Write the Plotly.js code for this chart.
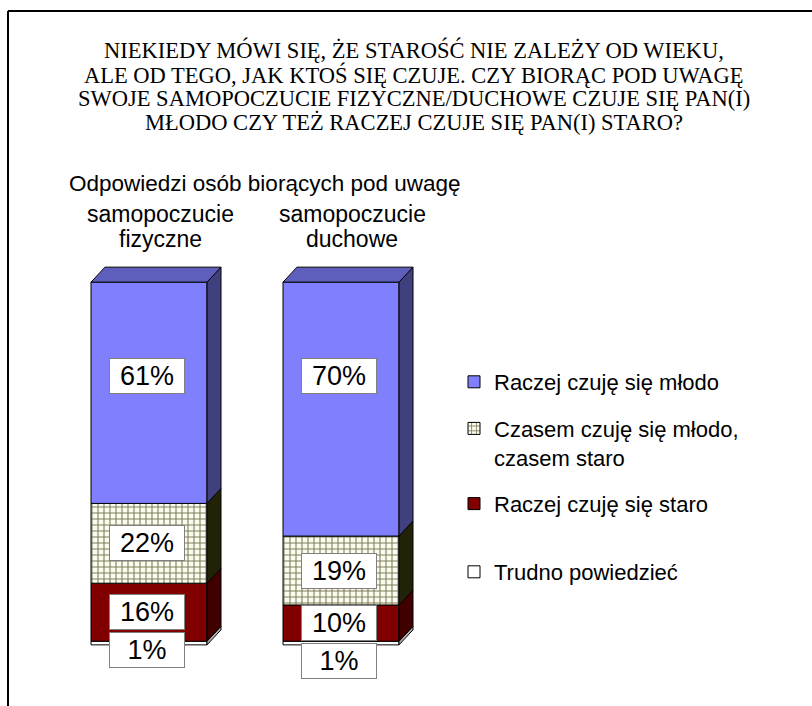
<!DOCTYPE html>
<html>
<head>
<meta charset="utf-8">
<script src="https://cdn.plot.ly/plotly-3.0.1.min.js"></script>
<style>html,body{margin:0;padding:0;background:#fff;}#chart{width:812px;height:706px;}</style>
</head>
<body>
<div id="chart"></div>
<script>
// ---- data ----
const titleLines = [
  'NIEKIEDY MÓWI SIĘ, ŻE STAROŚĆ NIE ZALEŻY OD WIEKU,',
  'ALE OD TEGO, JAK KTOŚ SIĘ CZUJE. CZY BIORĄC POD UWAGĘ',
  'SWOJE SAMOPOCZUCIE FIZYCZNE/DUCHOWE CZUJE SIĘ PAN(I)',
  'MŁODO CZY TEŻ RACZEJ CZUJE SIĘ PAN(I) STARO?'
];
const subtitle = 'Odpowiedzi osób biorących pod uwagę';
const categories = ['samopoczucie fizyczne', 'samopoczucie duchowe'];
const seriesNames = ['Raczej czuję się młodo', 'Czasem czuję się młodo,<br>czasem staro', 'Raczej czuję się staro', 'Trudno powiedzieć'];
const mlodo  = [61, 70];
const czasem = [22, 19];
const staro  = [16, 10];
const trudno = [1, 1];

// ---- geometry / style ----
const W = 812, H = 706;
const M = {l: 53, r: 375, t: 264, b: 43};
const PW = W - M.l - M.r, PH = H - M.t - M.b;
const XR = [-0.5, 1.5], YR = [-5, 105];
const pxPerX = PW / (XR[1] - XR[0]), pxPerY = PH / (YR[1] - YR[0]);
const barW = 116 / pxPerX;
const DX = 14 / pxPerX, DY = 15 / pxPerY;
const pxX = p => (p - M.l) / PW;
const pxY = p => (H - M.b - p) / PH;
const SANS = 'Liberation Sans, Arial, sans-serif';

const xs = categories.map((c, i) => i);
// stacking order bottom -> top
const stack = [
  {name: seriesNames[3], vals: trudno, front: '#ffffff', side: '#b0b0b0', top: '#e0e0e0', rank: 4, legend: 'legend2'},
  {name: seriesNames[2], vals: staro,  front: '#800000', side: '#400000', top: '#600000', rank: 3, legend: 'legend'},
  {name: seriesNames[1], vals: czasem, front: '#f8f8ec', side: '#222208', top: '#707050', rank: 2, legend: 'legend', pattern: true},
  {name: seriesNames[0], vals: mlodo,  front: '#8080ff', side: '#40407f', top: '#5e5ebc', rank: 1, legend: 'legend'}
];

const traces = [];
const bases = xs.map(() => 0);
const segs = [];
stack.forEach((s, si) => {
  const b = bases.slice();
  const marker = {color: s.front, line: {color: '#000', width: 1}};
  if (s.pattern) marker.pattern = {shape: '+', fgcolor: '#80805a', bgcolor: '#fbfbf0', size: 6, solidity: 0.33, fillmode: 'replace'};
  traces.push({
    type: 'bar', x: xs, y: s.vals, base: b, width: barW, name: s.name,
    marker: marker, legendgroup: 'g' + si, legendrank: s.rank, legend: s.legend, hoverinfo: 'skip'
  });
  xs.forEach((x, i) => segs.push({si, i, b: b[i], t: b[i] + s.vals[i]}));
  s.vals.forEach((v, i) => bases[i] += v);
});

// 3D side faces
stack.forEach((s, si) => {
  const px = [], py = [];
  xs.forEach((x, i) => {
    const seg = segs.find(g => g.si === si && g.i === i);
    const xr = x + barW / 2;
    px.push(xr, xr + DX, xr + DX, xr, xr, null);
    py.push(seg.b, seg.b + DY, seg.t + DY, seg.t, seg.b, null);
  });
  traces.push({type: 'scatter', mode: 'lines', x: px, y: py, fill: 'toself', fillcolor: s.side,
    line: {color: '#000', width: 1}, showlegend: false, hoverinfo: 'skip'});
});
// top face of the top segment
(function () {
  const s = stack[stack.length - 1];
  const px = [], py = [];
  xs.forEach((x, i) => {
    const T = bases[i];
    const xl = x - barW / 2, xr = x + barW / 2;
    px.push(xl, xl + DX, xr + DX, xr, xl, null);
    py.push(T, T + DY, T + DY, T, T, null);
  });
  traces.push({type: 'scatter', mode: 'lines', x: px, y: py, fill: 'toself', fillcolor: s.top,
    line: {color: '#000', width: 1}, showlegend: false, hoverinfo: 'skip'});
})();

// ---- annotations ----
const annotations = [];
titleLines.forEach((t, k) => annotations.push({
  text: t, xref: 'paper', yref: 'paper', x: pxX(414), y: pxY(50.5 + k * 24),
  xanchor: 'center', yanchor: 'middle', showarrow: false,
  font: {family: 'Liberation Serif, Times New Roman, serif', size: 22.5, color: '#000'}
}));
annotations.push({
  text: subtitle, xref: 'paper', yref: 'paper', x: pxX(67), y: pxY(183),
  xanchor: 'left', yanchor: 'middle', showarrow: false,
  font: {family: SANS, size: 22.5, color: '#000'}
});
categories.forEach((c, i) => {
  c.split(' ').forEach((w, k) => annotations.push({
    text: w, xref: 'x', yref: 'paper', x: i, xshift: 11, y: pxY(214 + k * 25),
    xanchor: 'center', yanchor: 'middle', showarrow: false,
    font: {family: SANS, size: 23, color: '#000'}
  }));
});
// data labels, top to bottom, with overlap avoidance
const gap = 10.5, topLabelDepth = 26;
xs.forEach((x, i) => {
  let prev = Infinity;
  for (let si = stack.length - 1; si >= 0; si--) {
    const seg = segs.find(g => g.si === si && g.i === i);
    let y = (seg.b + seg.t) / 2;
    if (si === stack.length - 1) y = Math.max(y, seg.t - topLabelDepth);
    y = Math.min(y, prev - gap);
    prev = y;
    annotations.push({
      text: stack[si].vals[i] + '%', xref: 'x', yref: 'y', x: x, y: y, xshift: -2,
      xanchor: 'center', yanchor: 'middle', showarrow: false,
      bgcolor: '#fff', bordercolor: '#808080', borderwidth: 1, borderpad: 1, width: 72, height: 32,
      font: {family: SANS, size: 27, color: '#000'}
    });
  }
});

const legendFont = {family: SANS, size: 22, color: '#000'};
const layout = {
  width: W, height: H, margin: M, paper_bgcolor: '#fff', plot_bgcolor: 'rgba(0,0,0,0)',
  barmode: 'overlay', showlegend: true,
  xaxis: {range: XR, visible: false, fixedrange: true},
  yaxis: {range: YR, visible: false, fixedrange: true},
  legend: {
    x: pxX(454), y: pxY(361), xanchor: 'left', yanchor: 'top',
    traceorder: 'grouped', tracegroupgap: 15, valign: 'top',
    font: legendFont, bgcolor: 'rgba(0,0,0,0)'
  },
  legend2: {
    x: pxX(454), y: pxY(551), xanchor: 'left', yanchor: 'top',
    font: legendFont, bgcolor: 'rgba(0,0,0,0)'
  },
  annotations: annotations,
  shapes: [
    {type: 'line', xref: 'paper', yref: 'paper', x0: pxX(8), x1: pxX(812), y0: pxY(11), y1: pxY(11), line: {color: '#000', width: 2}},
    {type: 'line', xref: 'paper', yref: 'paper', x0: pxX(8), x1: pxX(8), y0: pxY(11), y1: pxY(706), line: {color: '#000', width: 2}}
  ]
};

Plotly.newPlot('chart', traces, layout, {displayModeBar: false, staticPlot: true});
</script>
</body>
</html>
